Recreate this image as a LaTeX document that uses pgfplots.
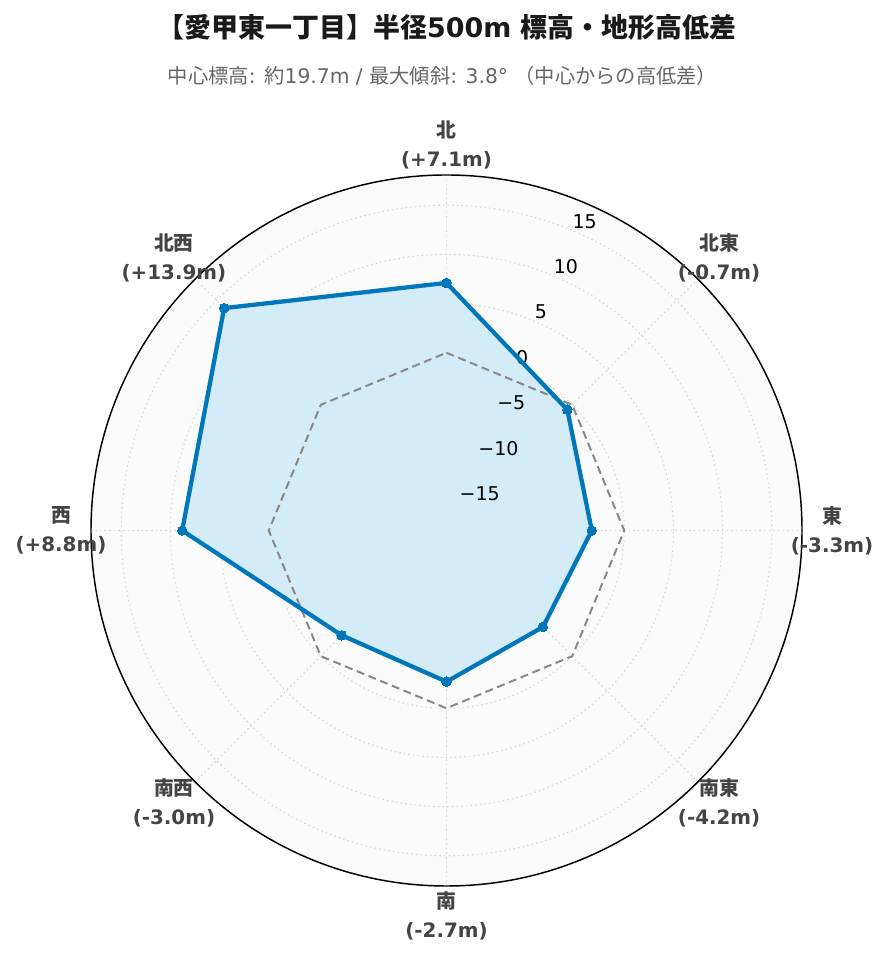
\documentclass[border=0pt]{standalone}
\usepackage{pgfplots}
\pgfplotsset{compat=1.18}
\usepackage{pgfplotstable}
\usepackage{fontspec}
\setmainfont{DejaVu Sans}
\newfontfamily\cjk{Noto Sans CJK JP}
\definecolor{lineblue}{HTML}{0077BB}
\definecolor{fillblue}{HTML}{D2ECF8}
\definecolor{bgc}{HTML}{FAFAFA}
\definecolor{gridc}{HTML}{D6D6D6}
\definecolor{zeroc}{HTML}{888888}
\definecolor{labc}{HTML}{444444}
\definecolor{titc}{HTML}{1A1A1A}
\definecolor{subc}{HTML}{666666}
\tikzset{
  tickfont/.style={font=\fontsize{14.25pt}{16pt}\selectfont, text=black},
  lab/.style={align=center, text=labc, font=\bfseries\fontsize{14.9pt}{21.75pt}\selectfont},
}

\pgfplotstableread{
ang val
0 7.1
45 -0.7
90 -3.3
135 -4.2
180 -2.7
225 -3.0
270 8.8
315 13.9
360 7.1
}\elev

\pgfplotstableread{
ang val
0 0
45 0
90 0
135 0
180 0
225 0
270 0
315 0
360 0
}\zero

\begin{document}
\begin{tikzpicture}
\useasboundingbox (0,0) rectangle (666.75pt,721.5pt);
\begin{axis}[
  at={(334.875pt,323.625pt)}, anchor=center,
  scale only axis, width=533.25pt, height=533.25pt,
  xmin=-36.14, xmax=36.14, ymin=-36.14, ymax=36.14,
  axis lines=none, clip=false,
]
% background
\fill[bgc] (axis cs:0,0) circle[radius=36.14];
% grid circles
\pgfplotsinvokeforeach{3.07,8.07,13.07,18.07,23.07,28.07,33.07}{
  \draw[gridc, line width=0.8pt, dash pattern=on 1.1pt off 2.4pt] (axis cs:0,0) circle[radius=#1];
}
% spokes
\pgfplotsinvokeforeach{0,45,90,135,180,225,270,315}{
  \draw[gridc, line width=0.8pt, dash pattern=on 1.1pt off 2.4pt] (axis cs:0,0) -- (axis cs:{36.14*sin(#1)},{36.14*cos(#1)});
}
% fill
\addplot[draw=none, fill=fillblue, fill opacity=0.95] table[x expr={(\thisrow{val}+18.07)*sin(\thisrow{ang})}, y expr={(\thisrow{val}+18.07)*cos(\thisrow{ang})}] {\elev} -- cycle;
% zero reference
\addplot[zeroc, line width=1.5pt, dash pattern=on 6pt off 3.5pt, no marks] table[x expr={(\thisrow{val}+18.07)*sin(\thisrow{ang})}, y expr={(\thisrow{val}+18.07)*cos(\thisrow{ang})}] {\zero};
% radial tick labels
\node[tickfont, anchor=south west, inner sep=1pt] at (axis cs:12.655,30.553) {15};
\node[tickfont, anchor=south west, inner sep=1pt] at (axis cs:10.742,25.933) {10};
\node[tickfont, anchor=south west, inner sep=1pt] at (axis cs:8.828,21.314) {5};
\node[tickfont, anchor=south west, inner sep=1pt] at (axis cs:6.915,16.695) {0};
\node[tickfont, anchor=south west, inner sep=1pt] at (axis cs:5.002,12.075) {−5};
\node[tickfont, anchor=south west, inner sep=1pt] at (axis cs:3.088,7.456) {−10};
\node[tickfont, anchor=south west, inner sep=1pt] at (axis cs:1.175,2.836) {−15};
% data line
\addplot[lineblue, line width=3.2pt, mark=*, mark size=3.6pt, mark options={solid, fill=lineblue, draw=lineblue, line width=0pt}, line join=round] table[x expr={(\thisrow{val}+18.07)*sin(\thisrow{ang})}, y expr={(\thisrow{val}+18.07)*cos(\thisrow{ang})}] {\elev};
% outer circle
\draw[black, line width=1.1pt] (axis cs:0,0) circle[radius=36.14];
% direction labels
\node[lab] at (axis cs:0,39.19) {{\cjk 北}\\(+7.1m)};
\node[lab] at (axis cs:27.71,27.71) {{\cjk 北東}\\(-0.7m)};
\node[lab] at (axis cs:39.19,0) {{\cjk 東}\\(-3.3m)};
\node[lab] at (axis cs:27.71,-27.71) {{\cjk 南東}\\(-4.2m)};
\node[lab] at (axis cs:0,-39.19) {{\cjk 南}\\(-2.7m)};
\node[lab] at (axis cs:-27.71,-27.71) {{\cjk 南西}\\(-3.0m)};
\node[lab] at (axis cs:-39.19,0) {{\cjk 西}\\(+8.8m)};
\node[lab] at (axis cs:-27.71,27.71) {{\cjk 北西}\\(+13.9m)};
\end{axis}
\node[text=titc, font=\bfseries\fontsize{20.2pt}{24pt}\selectfont, inner sep=0pt] at (335.25pt,701.25pt) {{\cjk 【愛甲東一丁目】半径}500m {\cjk 標高・地形高低差}};
\node[text=subc, font=\fontsize{15.2pt}{18pt}\selectfont, inner sep=0pt] at (331.9pt,664.5pt) {{\cjk 中心標高}: {\cjk 約}19.7m / {\cjk 最大傾斜}: 3.8° {\cjk （中心からの高低差）}};
\end{tikzpicture}
\end{document}
